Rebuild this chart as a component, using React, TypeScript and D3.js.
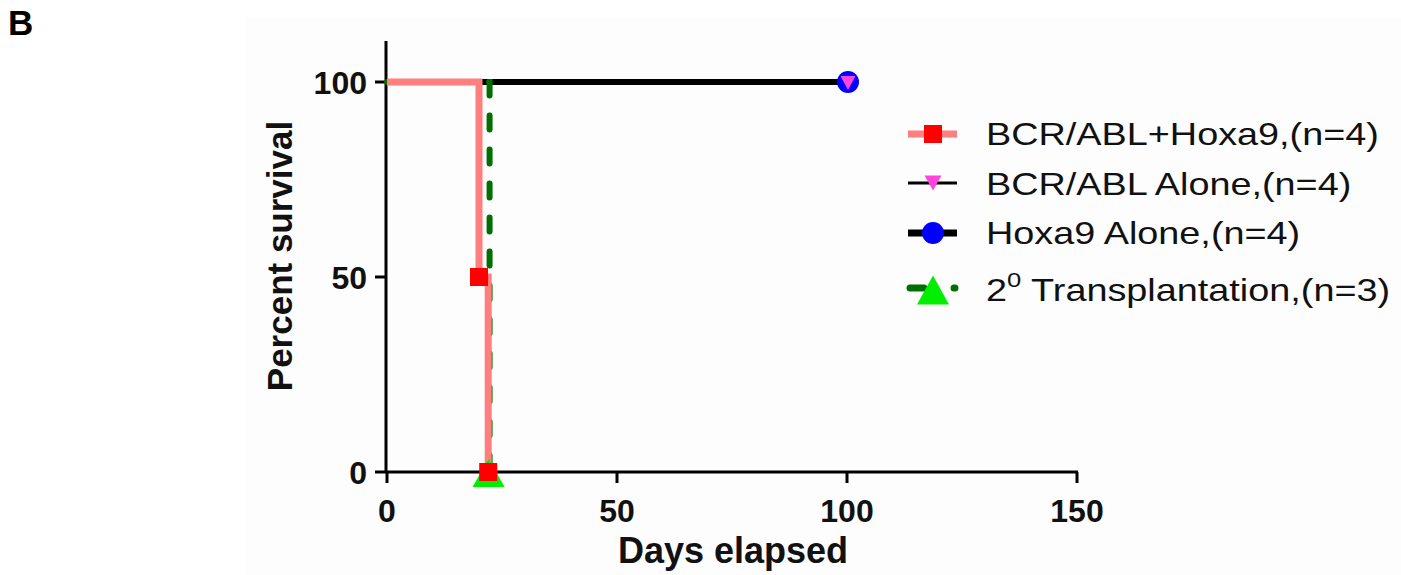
import React from "react";
import * as d3 from "d3";

const seriesNames = [
  "BCR/ABL+Hoxa9,(n=4)",
  "BCR/ABL Alone,(n=4)",
  "Hoxa9 Alone,(n=4)",
  "Transplantation,(n=3)",
];
// step survival curves: days and percent survival
const comboDays = [0, 20, 22];
const comboSurv = [100, 50, 0];
const bcrDays = [0, 100];
const bcrSurv = [100, 100];
const hoxDays = [0, 100];
const hoxSurv = [100, 100];
const transDays = [0, 22.3];
const transSurv = [100, 0];
// marker points (events)
const comboMarkDays = [20, 22];
const comboMarkSurv = [50, 0];
const bcrMarkDays = [100];
const bcrMarkSurv = [100];
const hoxMarkDays = [100];
const hoxMarkSurv = [100];
const transMarkDays = [22.3];
const transMarkSurv = [0];

const xTicks = [0, 50, 100, 150];
const yTicks = [0, 50, 100];

const W = 1401;
const H = 575;

export default function App() {
  const x = d3.scaleLinear().domain([0, 150]).range([387, 1077]);
  const y = d3.scaleLinear().domain([0, 100]).range([472, 82]);
  const line = d3
    .line<[number, number]>()
    .x((d) => x(d[0]))
    .y((d) => y(d[1]))
    .curve(d3.curveStepAfter);
  const pts = (a: number[], b: number[]) => a.map((v, i) => [v, b[i]] as [number, number]);

  const font = "'Liberation Sans', Arial, Helvetica, sans-serif";
  const upTri = (cx: number, cy: number, w: number, h: number) =>
    `M${cx},${cy - h / 2}L${cx + w / 2},${cy + h / 2}L${cx - w / 2},${cy + h / 2}Z`;
  const downTri = (cx: number, cy: number, w: number, h: number) =>
    `M${cx - w / 2},${cy - h / 2}L${cx + w / 2},${cy - h / 2}L${cx},${cy + h / 2}Z`;

  const legendRows = [134, 183, 233, 290];
  const legendBase = [145, 195, 244, 301];
  const lx0 = 908;
  const lx1 = 957;
  const lcx = 933;

  return (
    <svg
      width={W}
      height={H}
      style={{ position: "absolute", left: 0, top: 0, background: "#ffffff" }}
      fontFamily={font}
    >
      <rect x={245} y={17} width={W - 245} height={H - 17} fill="#fdfdfd" />
      <text x={8} y={35} fontSize={35} fontWeight="bold" fill="#000">
        B
      </text>

      {/* axes */}
      <line x1={386} x2={386} y1={41} y2={473} stroke="#000" strokeWidth={3} />
      <line x1={386} x2={1078} y1={472} y2={472} stroke="#000" strokeWidth={3} />
      {yTicks.map((t) => (
        <g key={"y" + t}>
          <line x1={375} x2={386} y1={y(t)} y2={y(t)} stroke="#000" strokeWidth={3} />
          <text x={367} y={y(t) + 11.5} fontSize={32} fontWeight="bold" textAnchor="end" fill="#111">
            {t}
          </text>
        </g>
      ))}
      {xTicks.map((t) => (
        <g key={"x" + t}>
          <line x1={x(t)} x2={x(t)} y1={472} y2={483} stroke="#000" strokeWidth={3} />
          <text x={x(t)} y={522} fontSize={32} fontWeight="bold" textAnchor="middle" fill="#111">
            {t}
          </text>
        </g>
      ))}
      <text
        transform="translate(292,256) rotate(-90)"
        fontSize={35}
        fontWeight="bold"
        textAnchor="middle"
        fill="#111"
      >
        Percent survival
      </text>
      <text x={733} y={563} fontSize={36} fontWeight="bold" textAnchor="middle" fill="#111">
        Days elapsed
      </text>

      {/* curves */}
      <path d={line(pts(hoxDays, hoxSurv)) || ""} fill="none" stroke="#000" strokeWidth={6} />
      <path d={line(pts(bcrDays, bcrSurv)) || ""} fill="none" stroke="#000" strokeWidth={3} />
      <path
        d={line(pts(transDays, transSurv)) || ""}
        fill="none"
        stroke="#006e00"
        strokeWidth={6}
        strokeDasharray="14 20"
        strokeLinecap="round"
      />
      <path d={line(pts(comboDays, comboSurv)) || ""} fill="none" stroke="#ff7f7f" strokeWidth={7} />

      {/* markers */}
      {transMarkDays.map((d, i) => (
        <path key={"tm" + i} d={upTri(x(d) - 1, y(transMarkSurv[i]) + 1, 32, 28)} fill="#00ee00" />
      ))}
      {comboMarkDays.map((d, i) => (
        <rect
          key={"cm" + i}
          x={x(d) - 9}
          y={y(comboMarkSurv[i]) - 9}
          width={18}
          height={18}
          fill="#ff0000"
        />
      ))}
      {hoxMarkDays.map((d, i) => (
        <circle key={"hm" + i} cx={x(d) + 1} cy={y(hoxMarkSurv[i])} r={11} fill="#0000ff" />
      ))}
      {bcrMarkDays.map((d, i) => (
        <path key={"bm" + i} d={downTri(x(d) + 1, y(bcrMarkSurv[i]) + 1, 15, 14)} fill="#ff44dd" />
      ))}

      {/* legend */}
      <line x1={lx0} x2={lx1} y1={legendRows[0]} y2={legendRows[0]} stroke="#ff7f7f" strokeWidth={7} />
      <rect x={lcx - 9} y={legendRows[0] - 9} width={18} height={18} fill="#ff0000" />

      <line x1={lx0} x2={lx1} y1={legendRows[1]} y2={legendRows[1]} stroke="#000" strokeWidth={3} />
      <path d={downTri(lcx, legendRows[1], 17, 15)} fill="#ff44dd" />

      <line x1={lx0} x2={lx1} y1={legendRows[2]} y2={legendRows[2]} stroke="#000" strokeWidth={7} />
      <circle cx={lcx} cy={legendRows[2]} r={11} fill="#0000ff" />

      <line
        x1={lx0 + 2}
        x2={lx1}
        y1={legendRows[3] - 2}
        y2={legendRows[3] - 2}
        stroke="#006e00"
        strokeWidth={7}
        strokeDasharray="14 30 1 10"
        strokeLinecap="round"
      />
      <path d={upTri(lcx, legendRows[3], 32, 29)} fill="#00ee00" />

      {seriesNames.map((s, i) => (
        <text
          key={"lt" + i}
          transform={`translate(986,${legendBase[i]}) scale(1.22,1)`}
          fontSize={31}
          fill="#111"
        >
          {i === 3 ? (
            <>
              <tspan>2</tspan>
              <tspan fontSize={21} dy={-14}>
                0
              </tspan>
              <tspan dy={14}> {s}</tspan>
            </>
          ) : (
            s
          )}
        </text>
      ))}
    </svg>
  );
}
